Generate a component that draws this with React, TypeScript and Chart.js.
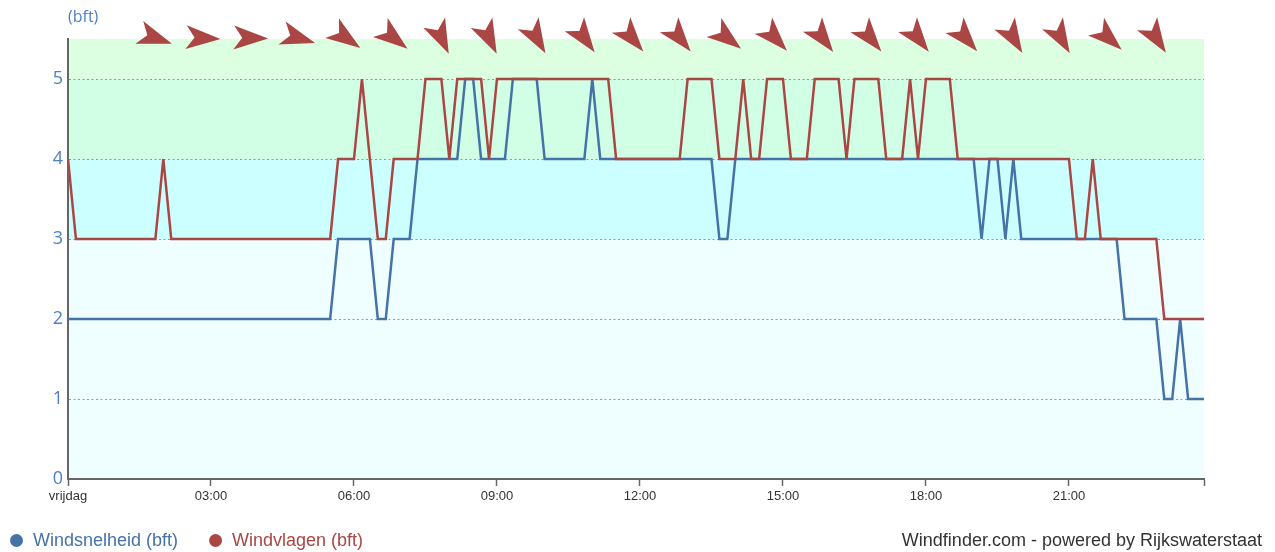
import React, { useEffect, useRef } from 'react';
import { Chart, registerables } from 'chart.js';

Chart.register(...registerables);

// Wind speed (Beaufort), one value per 10 minutes from 00:00 to 23:50
const windsnelheid: number[] = [
  2, 2, 2, 2, 2, 2, 2, 2, 2, 2, 2, 2,
  2, 2, 2, 2, 2, 2, 2, 2, 2, 2, 2, 2,
  2, 2, 2, 2, 2, 2, 2, 2, 2, 2, 3, 3,
  3, 3, 3, 2, 2, 3, 3, 3, 4, 4, 4, 4,
  4, 4, 5, 5, 4, 4, 4, 4, 5, 5, 5, 5,
  4, 4, 4, 4, 4, 4, 5, 4, 4, 4, 4, 4,
  4, 4, 4, 4, 4, 4, 4, 4, 4, 4, 3, 3,
  4, 4, 4, 4, 4, 4, 4, 4, 4, 4, 4, 4,
  4, 4, 4, 4, 4, 4, 4, 4, 4, 4, 4, 4,
  4, 4, 4, 4, 4, 4, 4, 3, 4, 4, 3, 4,
  3, 3, 3, 3, 3, 3, 3, 3, 3, 3, 3, 3,
  3, 2, 2, 2, 2, 2, 1, 1, 2, 1, 1, 1,
];

// Wind gusts (Beaufort)
const windvlagen: number[] = [
  4, 3, 3, 3, 3, 3, 3, 3, 3, 3, 3, 3,
  4, 3, 3, 3, 3, 3, 3, 3, 3, 3, 3, 3,
  3, 3, 3, 3, 3, 3, 3, 3, 3, 3, 4, 4,
  4, 5, 4, 3, 3, 4, 4, 4, 4, 5, 5, 5,
  4, 5, 5, 5, 5, 4, 5, 5, 5, 5, 5, 5,
  5, 5, 5, 5, 5, 5, 5, 5, 5, 4, 4, 4,
  4, 4, 4, 4, 4, 4, 5, 5, 5, 5, 4, 4,
  4, 5, 4, 4, 5, 5, 5, 4, 4, 4, 5, 5,
  5, 5, 4, 5, 5, 5, 5, 4, 4, 4, 5, 4,
  5, 5, 5, 5, 4, 4, 4, 4, 4, 4, 4, 4,
  4, 4, 4, 4, 4, 4, 4, 3, 3, 4, 3, 3,
  3, 3, 3, 3, 3, 3, 2, 2, 2, 2, 2, 2,
];

// Observation times (10-minute interval)
const sampleTimes: string[] = windsnelheid.map((_, i) => {
  const m = i * 10;
  return `${String(Math.floor(m / 60)).padStart(2, '0')}:${String(m % 60).padStart(2, '0')}`;
});

const xTickTimes = ['00:00', '03:00', '06:00', '09:00', '12:00', '15:00', '18:00', '21:00'];
const xTickLabels = ['vrijdag', '03:00', '06:00', '09:00', '12:00', '15:00', '18:00', '21:00'];
const yTickValues = [0, 1, 2, 3, 4, 5];

// Wind direction arrows (direction the wind comes from, degrees)
const arrowTimes = [
  '01:50', '02:50', '03:50', '04:50', '05:50', '06:50', '07:50', '08:50', '09:50', '10:50', '11:50',
  '12:50', '13:50', '14:50', '15:50', '16:50', '17:50', '18:50', '19:50', '20:50', '21:50', '22:50',
];
const windDirections = [
  289, 273, 272, 287, 305, 308, 335, 334, 330, 324, 320,
  321, 308, 317, 323, 321, 322, 319, 329, 330, 312, 327,
];

const toHours = (t: string) => {
  const [h, m] = t.split(':').map(Number);
  return h + m / 60;
};

const BLUE = '#4572A7';
const RED = '#AA4643';
const AXIS_BLUE = '#4d80c4';
const SANS = "'Liberation Sans', Arial, sans-serif";
const OPEN = "'Open Sans', sans-serif";

const bands = [
  { from: 0, to: 3, color: '#efffff' },
  { from: 3, to: 4, color: '#ccffff' },
  { from: 4, to: 5, color: '#d0ffe6' },
  { from: 5, to: 5.5, color: '#dcffe2' },
];

const decorPlugin = {
  id: 'decor',
  beforeDraw(chart: any) {
    const { ctx, chartArea: a } = chart;
    const y = chart.scales.y;
    ctx.save();
    for (const b of bands) {
      const top = y.getPixelForValue(b.to);
      const bot = y.getPixelForValue(b.from);
      ctx.fillStyle = b.color;
      ctx.fillRect(a.left, top, a.right - a.left, bot - top);
    }
    ctx.restore();
  },
  afterDatasetsDraw(chart: any) {
    const { ctx, chartArea: a } = chart;
    const x = chart.scales.x;
    arrowTimes.forEach((t, i) => {
      const px = x.getPixelForValue(toHours(t));
      const py = a.top - 1;
      const ang = ((windDirections[i] + 90) * Math.PI) / 180;
      ctx.save();
      ctx.translate(px, py);
      ctx.rotate(ang);
      ctx.beginPath();
      ctx.moveTo(17.5, 0);
      ctx.lineTo(-17, -12);
      ctx.lineTo(-8.5, 0);
      ctx.lineTo(-17, 12);
      ctx.closePath();
      ctx.fillStyle = RED;
      ctx.fill();
      ctx.restore();
    });
  },
  afterDraw(chart: any) {
    const { ctx, chartArea: a } = chart;
    ctx.save();
    // unit label
    ctx.font = `16px ${OPEN}`;
    ctx.fillStyle = AXIS_BLUE;
    ctx.textAlign = 'left';
    ctx.textBaseline = 'middle';
    ctx.fillText('(bft)', a.left, 17.5);

    // legend
    const ly = 540.5;
    ctx.font = `18px ${SANS}`;
    ctx.textBaseline = 'middle';
    ctx.fillStyle = BLUE;
    ctx.beginPath();
    ctx.arc(16.5, ly, 6.5, 0, Math.PI * 2);
    ctx.fill();
    const t1 = 'Windsnelheid (bft)';
    ctx.fillText(t1, 33, ly + 0.5);
    const c2 = 33 + ctx.measureText(t1).width + 37.5;
    ctx.fillStyle = RED;
    ctx.beginPath();
    ctx.arc(c2, ly, 6.5, 0, Math.PI * 2);
    ctx.fill();
    ctx.fillText('Windvlagen (bft)', c2 + 16.5, ly + 0.5);

    // credits
    ctx.fillStyle = '#333';
    ctx.textAlign = 'right';
    ctx.fillText('Windfinder.com - powered by Rijkswaterstaat', 1262, ly + 0.5);
    ctx.restore();
  },
};

export default function App() {
  const ref = useRef<HTMLCanvasElement>(null);
  useEffect(() => {
    document.body.style.margin = '0';
    const hours = sampleTimes.map(toHours);
    const chart = new Chart(ref.current as HTMLCanvasElement, {
      type: 'line',
      data: {
        datasets: [
          {
            label: 'Windsnelheid (bft)',
            data: windsnelheid.map((v, i) => ({ x: hours[i], y: v })),
            borderColor: BLUE,
            borderWidth: 2.5,
            pointRadius: 0,
            tension: 0,
            fill: false,
            order: 1,
          },
          {
            label: 'Windvlagen (bft)',
            data: windvlagen.map((v, i) => ({ x: hours[i], y: v })),
            borderColor: RED,
            borderWidth: 2.5,
            pointRadius: 0,
            tension: 0,
            fill: false,
            order: 0,
          },
        ],
      },
      options: {
        responsive: false,
        animation: false,
        layout: { padding: { left: 0, right: 71, top: 39, bottom: 0 } },
        plugins: { legend: { display: false }, tooltip: { enabled: false } },
        scales: {
          x: {
            type: 'linear',
            min: 0,
            max: hours[hours.length - 1],
            afterBuildTicks: (s: any) => {
              s.ticks = [...xTickTimes.map(toHours), s.max].map((v: number) => ({ value: v }));
            },
            afterFit: (s: any) => {
              s.height = 73;
            },
            ticks: {
              autoSkip: false,
              maxRotation: 0,
              padding: 3,
              color: '#333',
              font: { family: SANS, size: 13 },
              callback: (_v: any, i: number) => xTickLabels[i] ?? '',
            },
            grid: {
              drawOnChartArea: false,
              drawTicks: true,
              tickLength: 7,
              tickColor: '#666',
              tickWidth: 1.5,
            },
            border: { display: true, color: '#666', width: 2 },
          },
          y: {
            type: 'linear',
            min: 0,
            max: 5.5,
            afterBuildTicks: (s: any) => {
              s.ticks = yTickValues.map((v) => ({ value: v }));
            },
            afterFit: (s: any) => {
              s.width = 68;
            },
            ticks: {
              padding: 5,
              color: AXIS_BLUE,
              font: { family: OPEN, size: 18 },
            },
            grid: {
              drawTicks: false,
              lineWidth: 1,
              color: (c: any) => (c.tick && c.tick.value === 0 ? 'rgba(0,0,0,0)' : '#999'),
            },
            border: { display: true, color: '#666', width: 2, dash: [2, 2.5] },
          },
        },
      },
      plugins: [decorPlugin],
    } as any);
    return () => chart.destroy();
  }, []);
  return (
    <div style={{ position: 'fixed', left: 0, top: 0, width: 1275, height: 552, background: '#fff' }}>
      <canvas ref={ref} width={1275} height={552} style={{ width: 1275, height: 552, display: 'block' }} />
    </div>
  );
}
